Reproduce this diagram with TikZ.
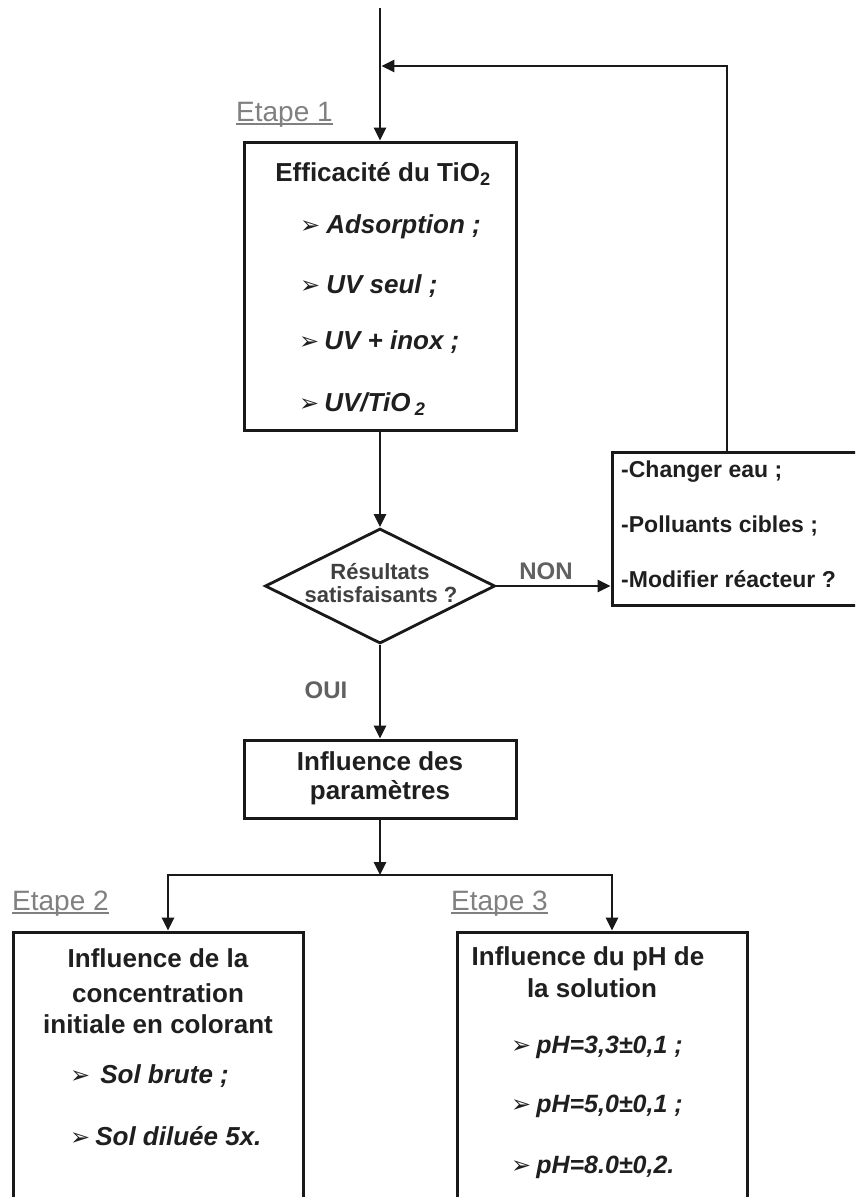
\documentclass[tikz,border=0pt]{standalone}
\usepackage{fontspec}
\setmainfont{Liberation Sans}
\newfontfamily\djfont{DejaVu Sans}
\usetikzlibrary{arrows.meta,shapes.geometric}
\newcommand{\bul}{{\djfont\fontsize{24}{24}\selectfont\mdseries\upshape ➢}}
\begin{document}
\begin{tikzpicture}[x=1pt,y=-1pt,
  box/.style={draw=black!90,line width=3pt,inner sep=0pt,fill=white},
  conn/.style={draw=black!90,line width=2.8pt,-{Triangle[length=13pt,width=12pt]}},
  ttl/.style={inner sep=0pt,anchor=base,font=\fontsize{26}{31}\selectfont\bfseries,text=black!88},
  itm/.style={inner sep=0pt,anchor=base west,font=\fontsize{26}{31}\selectfont\bfseries\itshape,text=black!88},
  phitm/.style={inner sep=0pt,anchor=base west,font=\fontsize{25}{28}\selectfont\bfseries\itshape,text=black!88},
  rtxt/.style={inner sep=0pt,anchor=base west,font=\fontsize{23}{28}\selectfont\bfseries,text=black!88},
  dtxt/.style={inner sep=0pt,anchor=base,font=\fontsize{22}{26}\selectfont\bfseries,text=black!75},
  lab/.style={inner sep=0pt,anchor=base,font=\fontsize{24}{28}\selectfont\bfseries,text=black!62},
  etape/.style={inner sep=0pt,anchor=base west,font=\fontsize{28}{31}\selectfont,text=black!50},
  uline/.style={draw=black!50,line width=1.6pt}]
\useasboundingbox (0,0) rectangle (855,1197);
\clip (0,0) rectangle (855,1197);
\fill[white] (0,0) rectangle (855,1197);

% boxes
\node[box,minimum width=272pt,minimum height=288pt] (b1) at (380,286) {};
\node[box,diamond,line width=2.8pt,minimum width=230pt,minimum height=115pt] (d) at (380,586) {};
\node[box,minimum width=268pt,minimum height=153pt] (rb) at (746,528.5) {};
\node[box,minimum width=272pt,minimum height=78pt] (pb) at (380,779) {};
\node[box,minimum width=290pt,minimum height=300pt] (b2) at (158,1082) {};
\node[box,minimum width=290pt,minimum height=300pt] (b3) at (602,1082) {};

% step labels
\node[etape] (e1) at (236,121) {Etape 1};
\draw[uline] ([yshift=-3pt]e1.base west) -- ([yshift=-3pt]e1.base east);
\node[etape] (e2) at (12,910) {Etape 2};
\draw[uline] ([yshift=-3pt]e2.base west) -- ([yshift=-3pt]e2.base east);
\node[etape] (e3) at (451,910) {Etape 3};
\draw[uline] ([yshift=-3pt]e3.base west) -- ([yshift=-3pt]e3.base east);

% box 1 text
\node[ttl] (t1) at (383,181) {Efficacité du TiO\textsubscript{2}};
\node[itm] (i1) at (300,233) {\bul\hspace{6pt}Adsorption ;};
\node[itm] (i2) at (300,293) {\bul\hspace{6pt}UV seul ;};
\node[itm] (i3) at (299,349) {\bul\hspace{5pt}UV + inox ;};
\node[itm] (i4) at (299,411) {\bul\hspace{5pt}UV/TiO\,\textsubscript{2}};

% diamond text
\node[dtxt] (dt1) at (380,579) {Résultats};
\node[dtxt] (dt2) at (381,602) {satisfaisants ?};
\node[lab] (non) at (546,579) {NON};
\node[lab] (oui) at (326,698) {OUI};

% right box text
\node[rtxt] (r1) at (621,477) {-Changer eau ;};
\node[rtxt] (r2) at (621,532) {-Polluants cibles ;};
\node[rtxt] (r3) at (621,587) {-Modifier réacteur ?};

% parameters box text
\node[ttl] (p1) at (380,770) {Influence des};
\node[ttl] (p2) at (380,799) {paramètres};

% box 2 text
\node[ttl] (c1) at (158,967) {Influence de la};
\node[ttl] (c2) at (158,1002) {concentration};
\node[ttl] (c3) at (158,1033) {initiale en colorant};
\node[itm] (s1) at (70,1083) {\bul\hspace{10pt}Sol brute ;};
\node[itm] (s2t) at (70,1145) {\bul\hspace{5pt}Sol diluée 5x.};

% box 3 text
\node[ttl] (h1) at (588,965) {Influence du pH de};
\node[ttl] (h2) at (592,997) {la solution};
\node[phitm] (ph1) at (511,1053) {\bul\hspace{5pt}pH=3,3±0,1 ;};
\node[phitm] (ph2) at (511,1112) {\bul\hspace{5pt}pH=5,0±0,1 ;};
\node[phitm] (ph3) at (511,1173) {\bul\hspace{5pt}pH=8.0±0,2.};

% connectors
\coordinate (top) at (380,8);
\coordinate (fb) at (727,66);
\coordinate (sp) at (380,875);
\coordinate (x2) at (168,875);
\coordinate (x3) at (612,875);
\draw[conn] (top) -- (b1.north);
\draw[conn,shorten >=1.4pt] (rb.north -| fb) |- (top |- fb);
\draw[conn] (b1.south) -- (d.north);
\draw[conn] (d.east) -- (rb.west |- d.east);
\draw[conn] (d.south) -- (pb.north);
\draw[conn] (pb.south) -- (sp);
\draw[conn] (sp) -| (x2 |- b2.north);
\draw[conn] (sp) -| (x3 |- b3.north);
\end{tikzpicture}
\end{document}
